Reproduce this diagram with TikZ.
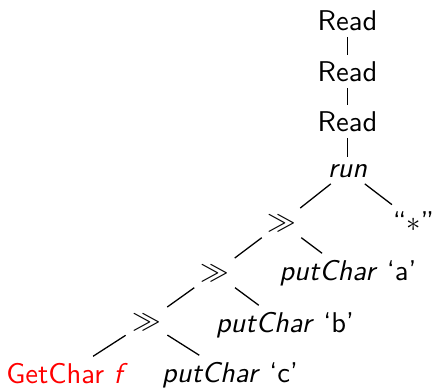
\documentclass[tikz,border=0pt]{standalone}
\begin{document}
\begin{tikzpicture}[x=0.35pt,y=-0.35pt,
  tnode/.style={font=\sffamily, inner sep=2.1pt, anchor=base},
  link/.style={line width=0.45pt, black}]
\useasboundingbox (0,0) rectangle (432,387);
\node[tnode] (r1) at (347.5,30) {Read};
\node[tnode] (r2) at (347.5,81) {Read};
\node[tnode] (r3) at (347.5,131) {Read};
\node[tnode] (run) at (347.5,177) {\textsl{run}};
\node[tnode] (b1) at (281.5,230) {$\gg$};
\node[tnode] (st) at (413.5,231) {``$*$''};
\node[tnode] (b2) at (215,280) {$\gg$};
\node[tnode] (pa) at (348,280) {\textsl{putChar} `a'};
\node[tnode] (b3) at (146.5,329) {$\gg$};
\node[tnode] (pb) at (285,332) {\textsl{putChar} `b'};
\node[tnode, text=red] (gc) at (67,383) {GetChar \textsl{f}};
\node[tnode] (pc) at (230,382) {\textsl{putChar} `c'};
\draw[link] (r1) -- (r2);
\draw[link] (r2) -- (r3);
\draw[link] (r3) -- (run);
\draw[link] (run) -- (b1);
\draw[link] (run) -- (st);
\draw[link] (b1) -- (b2);
\draw[link] (b1) -- (pa);
\draw[link] (b2) -- (b3);
\draw[link] (b2) -- (pb);
\draw[link] (b3) -- (gc);
\draw[link] (b3) -- (pc);
\end{tikzpicture}
\end{document}
